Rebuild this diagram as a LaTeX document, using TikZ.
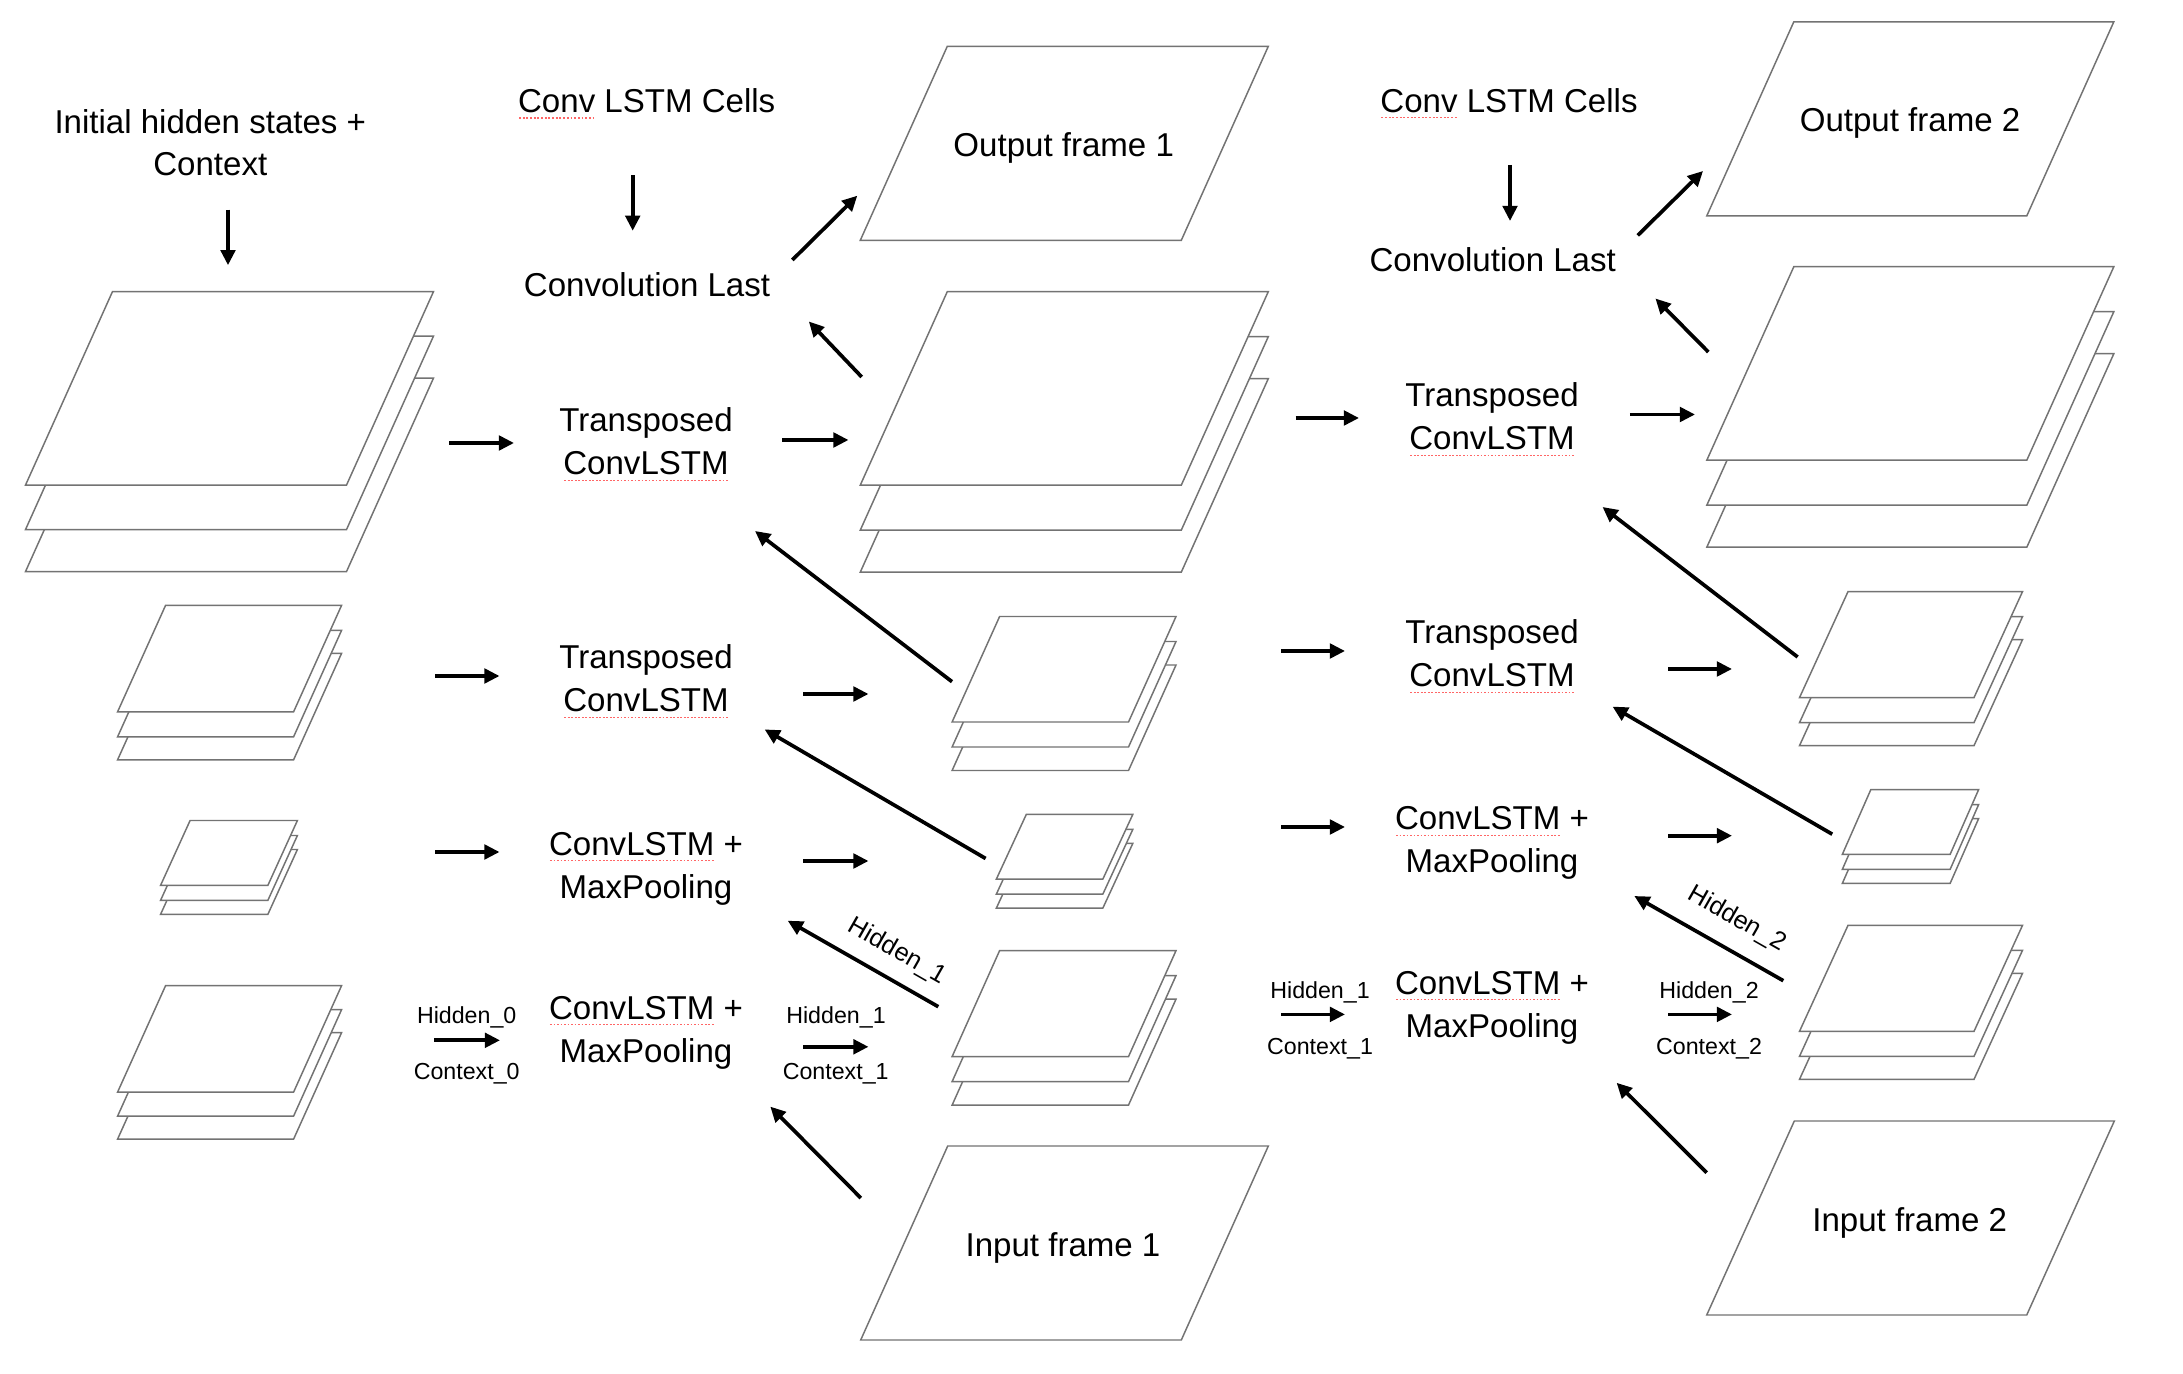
\documentclass[tikz,border=0pt]{standalone}
\usepackage{fontspec}
\setmainfont{Liberation Sans}
\usetikzlibrary{arrows.meta}
\newsavebox\spbox
\newcommand\spellul[1]{\sbox\spbox{#1}\leavevmode\rlap{\raisebox{-1.6pt}{\color{red!60}\hbox to \wd\spbox{\xleaders\hbox to 1pt{\hss\rule{0.5pt}{0.3pt}\hss}\hfill}}}\usebox\spbox}
% parallelogram: top-left x, top-left y, width, height, skew
\newcommand\plate[5]{\draw[platestyle] (#1,#2) -- ++(#3,0) -- ++(-#5,#4) -- ++(-#3,0) -- cycle;}
% stack of three plates: name, tlx, tly, w, h, s, offset2, offset3
\newcommand\stackplates[8]{%
  \plate{#2}{#3+#8}{#4}{#5}{#6}
  \plate{#2}{#3+#7}{#4}{#5}{#6}
  \plate{#2}{#3}{#4}{#5}{#6}
  \coordinate (#1) at ({#2+#4/2-#6/2},{#3+#5/2});}
\tikzset{
  platestyle/.style={draw=black!55, line width=0.42pt, fill=white},
  arr/.style={line width=1.05pt, -{Triangle[length=4.3pt,width=4.1pt]}},
  lbl/.style={font=\fontsize{9.4}{11}\selectfont, anchor=base, inner sep=0pt},
  sml/.style={font=\fontsize{6.6}{8}\selectfont, anchor=base, inner sep=0pt},
  rot/.style={font=\fontsize{7.2}{8.5}\selectfont, inner sep=0pt, rotate=-29.7},
}
\begin{document}
\begin{tikzpicture}[x=0.01cm, y=-0.01cm]
\fill[white] (0,0) rectangle (2183,1374);
\useasboundingbox (0,0) rectangle (2183,1374);

% ---------- plates ----------
% frames
\plate{947.3}{46.3}{321}{194}{87}
\plate{1793.8}{21.8}{320}{194}{87}
\plate{947.7}{1146}{320.6}{194}{87}
\plate{1794.3}{1121}{320}{194}{87.6}
% big stacks
\stackplates{sA}{112.5}{291.6}{321}{193.5}{87}{44.5}{86.5}
\stackplates{sB}{947.3}{291.6}{321}{193.5}{87}{45}{87}
\stackplates{sC}{1793.8}{266.7}{320}{193.5}{87}{45}{87}
% medium stacks
\stackplates{sD}{165.6}{605.3}{176}{106.5}{48}{25}{48}
\stackplates{sF}{165.6}{985.6}{176}{106.5}{48}{24}{47}
\stackplates{sG}{999.6}{616.5}{176.4}{105.5}{47.5}{25}{48.5}
\stackplates{sI}{999.6}{950.6}{176.4}{106}{47.5}{25}{48.5}
\stackplates{sJ}{1848}{591.6}{174.5}{106}{48.5}{25}{48}
\stackplates{sL}{1848}{925.3}{174.5}{106}{48.5}{25}{48}
% small stacks
\stackplates{sE}{190.1}{820.5}{107.3}{64.8}{29.5}{15}{29}
\stackplates{sH}{1026.3}{814.4}{106.5}{64.8}{30}{15}{29}
\stackplates{sK}{1870.8}{789.6}{107.8}{64.8}{28.5}{15}{29}

% ---------- texts ----------
\node[lbl] (init1) at (210.3,134) {Initial hidden states +};
\node[lbl] (init2) at (210.3,176) {Context};
\node[lbl] (cellsL) at (646.7,112.9) {\spellul{Conv} LSTM Cells};
\node[lbl] (cellsR) at (1509,112.1) {\spellul{Conv} LSTM Cells};
\node[lbl] (lastL) at (647,296.6) {Convolution Last};
\node[lbl] (lastR) at (1492.7,271.7) {Convolution Last};

\node[lbl] (out1) at (1063.7,157) {Output frame 1};
\node[lbl] (out2) at (1910,132) {Output frame 2};
\node[lbl] (in1) at (1063,1256.7) {Input frame 1};
\node[lbl] (in2) at (1909.7,1231.7) {Input frame 2};

% left column blocks
\node[lbl] (tL1a) at (646,431.7) {Transposed};
\node[lbl] (tL1b) at (646,475) {\spellul{ConvLSTM}};
\node[lbl] (tL2a) at (646,669) {Transposed};
\node[lbl] (tL2b) at (646,712) {\spellul{ConvLSTM}};
\node[lbl] (cL3a) at (646,855) {\spellul{ConvLSTM} +};
\node[lbl] (cL3b) at (646,898) {MaxPooling};
\node[lbl] (cL4a) at (646,1019) {\spellul{ConvLSTM} +};
\node[lbl] (cL4b) at (646,1062) {MaxPooling};
% right column blocks
\node[lbl] (tR1a) at (1492,406.7) {Transposed};
\node[lbl] (tR1b) at (1492,450) {\spellul{ConvLSTM}};
\node[lbl] (tR2a) at (1492,644) {Transposed};
\node[lbl] (tR2b) at (1492,687) {\spellul{ConvLSTM}};
\node[lbl] (cR3a) at (1492,830) {\spellul{ConvLSTM} +};
\node[lbl] (cR3b) at (1492,873) {MaxPooling};
\node[lbl] (cR4a) at (1492,994) {\spellul{ConvLSTM} +};
\node[lbl] (cR4b) at (1492,1037) {MaxPooling};

% small labels
\node[sml] (hid0) at (466.7,1023.3) {Hidden\_0};
\node[sml] (ctx0) at (466.7,1079) {Context\_0};
\node[sml] (hid1a) at (836,1023.5) {Hidden\_1};
\node[sml] (ctx1a) at (835.7,1079) {Context\_1};
\node[sml] (hid1b) at (1320,998.3) {Hidden\_1};
\node[sml] (ctx1b) at (1320,1054) {Context\_1};
\node[sml] (hid2b) at (1709,998.3) {Hidden\_2};
\node[sml] (ctx2b) at (1709,1054) {Context\_2};
\node[rot] (hid1r) at (897.3,951.7) {Hidden\_1};
\node[rot] (hid2r) at (1736.7,919.3) {Hidden\_2};

% ---------- arrow end points ----------
\coordinate (v0s) at (228,209.7);   \coordinate (v0e) at (228,265.2);
\coordinate (v1s) at (632.7,175.3); \coordinate (v1e) at (632.7,230.8);
\coordinate (v2s) at (1510,165);    \coordinate (v2e) at (1510,221);

\coordinate (h1Ls) at (449,443);    \coordinate (h1Le) at (514,443);
\coordinate (h1Rs) at (782,440);    \coordinate (h1Re) at (848.5,440);
\coordinate (h2Ls) at (435,676);    \coordinate (h2Le) at (499.5,676);
\coordinate (h2Rs) at (803,694);    \coordinate (h2Re) at (868.5,694);
\coordinate (h3Ls) at (435,852);    \coordinate (h3Le) at (499.5,852);
\coordinate (h3Rs) at (803,861);    \coordinate (h3Re) at (868.5,861);
\coordinate (h4Ls) at (434,1040.3); \coordinate (h4Le) at (500,1040.3);
\coordinate (h4Rs) at (803,1046.8); \coordinate (h4Re) at (868.5,1046.8);

\coordinate (r1Ls) at (1295.6,418);  \coordinate (r1Le) at (1359,418);
\coordinate (r1Rs) at (1629.8,414.5);\coordinate (r1Re) at (1695,414.5);
\coordinate (r2Ls) at (1281,651);    \coordinate (r2Le) at (1345,651);
\coordinate (r2Rs) at (1668,669);    \coordinate (r2Re) at (1732,669);
\coordinate (r3Ls) at (1281,827);    \coordinate (r3Le) at (1345,827);
\coordinate (r3Rs) at (1668,835.7);  \coordinate (r3Re) at (1732,835.7);
\coordinate (r4Ls) at (1281,1014.4); \coordinate (r4Le) at (1345,1014.4);
\coordinate (r4Rs) at (1668,1014.4); \coordinate (r4Re) at (1732,1014.4);

\coordinate (d1s) at (861.7,377);    \coordinate (d1e) at (808.8,321.5);
\coordinate (d2s) at (792.3,260);    \coordinate (d2e) at (857.3,195.7);
\coordinate (d3s) at (952,681.7);    \coordinate (d3e) at (755,531);
\coordinate (d4s) at (985.6,858.5);  \coordinate (d4e) at (764.6,729.4);
\coordinate (d5s) at (938.3,1006.7); \coordinate (d5e) at (787.7,920.7);
\coordinate (d6s) at (860.8,1198);   \coordinate (d6e) at (770.3,1106.6);
\coordinate (e1s) at (1708.3,352);   \coordinate (e1e) at (1655.4,298.5);
\coordinate (e2s) at (1637.7,235.4); \coordinate (e2e) at (1703,171);
\coordinate (e3s) at (1797.6,657);   \coordinate (e3e) at (1602.5,507);
\coordinate (e4s) at (1832.2,834.2); \coordinate (e4e) at (1612.5,706.6);
\coordinate (e5s) at (1783.3,980.7); \coordinate (e5e) at (1634.3,896);
\coordinate (e6s) at (1706.7,1172.7);\coordinate (e6e) at (1616.6,1082.8);

% ---------- arrows ----------
\foreach \a in {v0,v1,v2,h1L,h1R,h2L,h2R,h3L,h3R,h4L,h4R,r1L,r1R,r2L,r2R,r3L,r3R,r4L,r4R,d1,d2,d3,d4,d5,d6,e1,e2,e3,e4,e5,e6}
  \draw[arr] (\a s) -- (\a e);
\end{tikzpicture}
\end{document}
